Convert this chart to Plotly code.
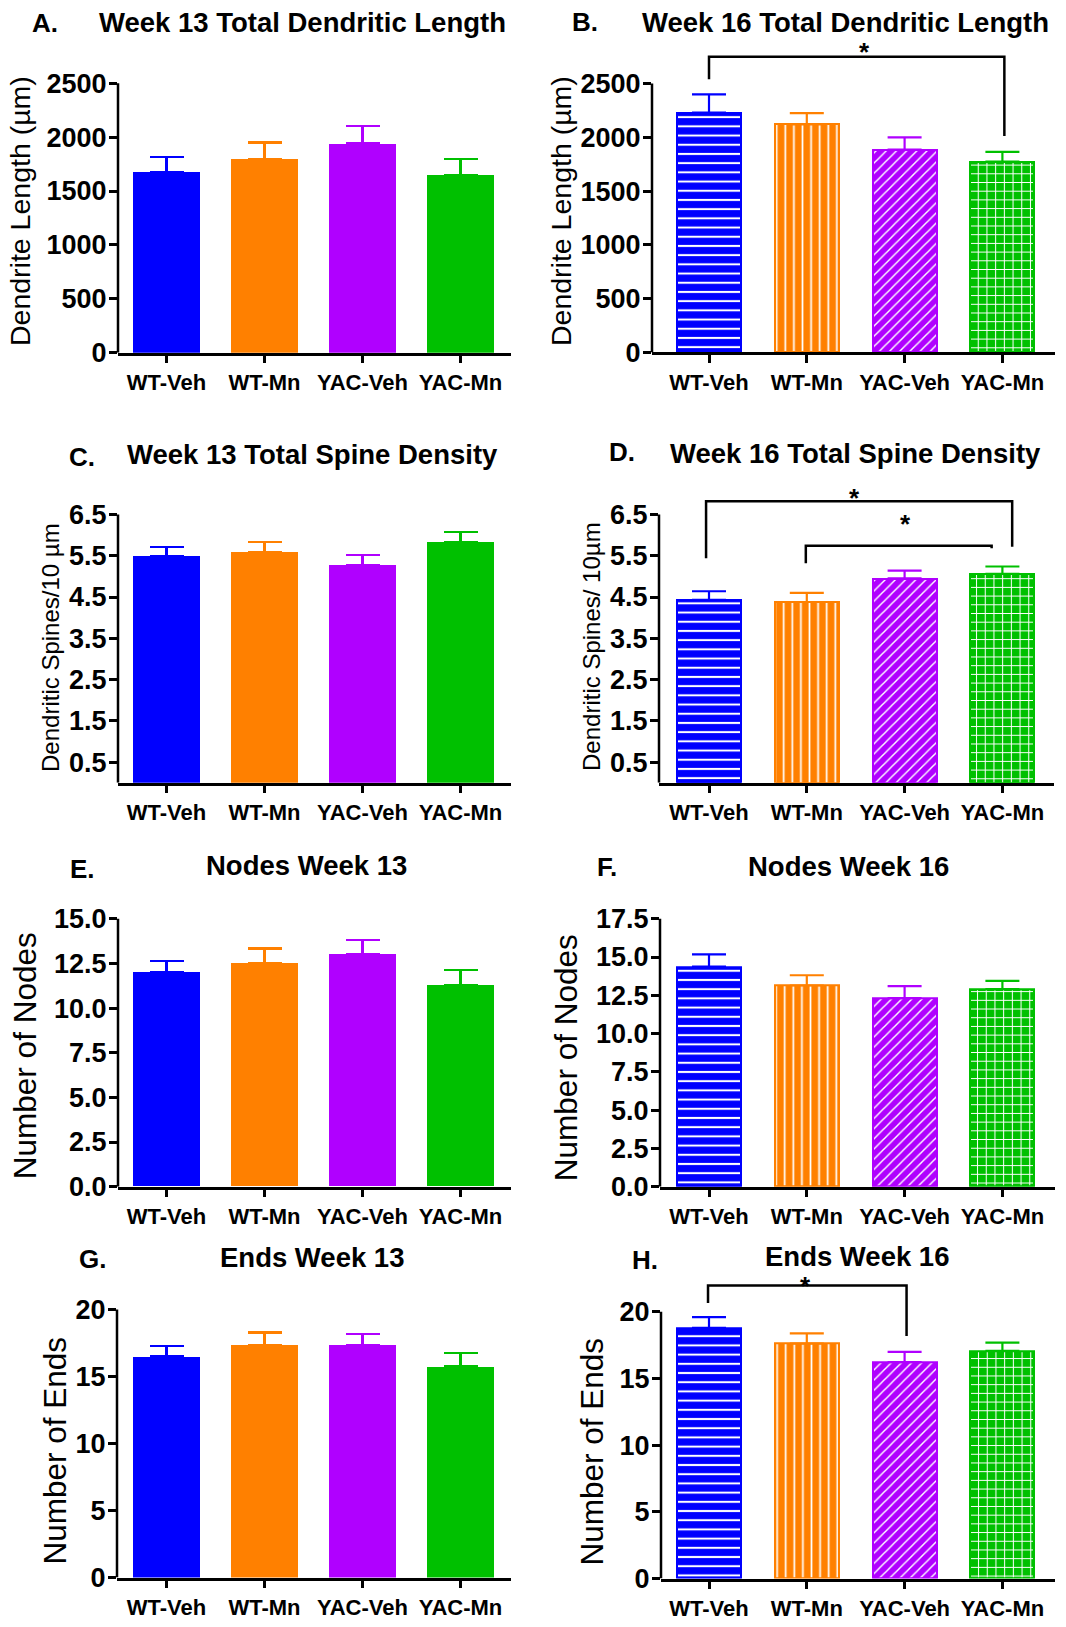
import plotly.graph_objects as go

# ---------------- data ----------------
groups = ["WT-Veh", "WT-Mn", "YAC-Veh", "YAC-Mn"]
colors = ["#0000FF", "#FF8000", "#B000FF", "#00C000"]
patterns = ["-", "|", "/", "+"]

# total dendritic length (µm), mean and SEM
len_w13_mean = [1680, 1800, 1940, 1650]
len_w13_sem = [135, 150, 160, 145]
len_w16_mean = [2230, 2120, 1885, 1775]
len_w16_sem = [170, 105, 115, 90]

# total spine density (spines / 10 µm)
spine_w13_mean = [5.50, 5.60, 5.28, 5.84]
spine_w13_sem = [0.21, 0.23, 0.23, 0.23]
spine_w16_mean = [4.43, 4.38, 4.95, 5.06]
spine_w16_sem = [0.21, 0.22, 0.19, 0.18]

# number of nodes
nodes_w13_mean = [12.0, 12.5, 13.0, 11.3]
nodes_w13_sem = [0.65, 0.83, 0.80, 0.85]
nodes_w16_mean = [14.37, 13.14, 12.32, 12.90]
nodes_w16_sem = [0.80, 0.67, 0.78, 0.54]

# number of ends
ends_w13_mean = [16.5, 17.35, 17.37, 15.75]
ends_w13_sem = [0.77, 0.93, 0.80, 0.98]
ends_w16_mean = [18.8, 17.62, 16.23, 17.07]
ends_w16_sem = [0.80, 0.76, 0.77, 0.62]

# y tick values
len_ticks = [0, 500, 1000, 1500, 2000, 2500]
spine_ticks = [0.5, 1.5, 2.5, 3.5, 4.5, 5.5, 6.5]
nodes_w13_ticks = [0, 2.5, 5.0, 7.5, 10.0, 12.5, 15.0]
nodes_w16_ticks = [0, 2.5, 5.0, 7.5, 10.0, 12.5, 15.0, 17.5]
ends_ticks = [0, 5, 10, 15, 20]

# significance brackets: (x_left, x_right, y_bar, y_left_end, y_right_end)
len_w16_brackets = [(0.0, 3.02, 2748, 2539, 2011)]
spine_w16_brackets = [(-0.03, 3.10, 6.82, 5.44, 5.72),
                      (0.99, 2.89, 5.74, 5.32, 5.68)]
ends_w16_brackets = [(-0.01, 2.02, 21.97, 20.66, 18.19)]
# star marks: (x, y)
len_w16_stars = [(1.59, 2861)]
spine_w16_stars = [(1.49, 7.06), (2.01, 6.44)]
ends_w16_stars = [(0.99, 22.45)]

# ---------------- layout geometry (pixels) ----------------
W, H = 1066, 1627
FONT = "Liberation Sans, Arial, Helvetica, sans-serif"


def px_x(p):
    return p / W


def px_y(p):
    return 1 - p / H


panels = [
    dict(letter="A.", title="Week 13 Total Dendritic Length",
         ylabel="Dendrite Length (µm)", mean=len_w13_mean, sem=len_w13_sem,
         ticks=len_ticks, fmt="d", patterned=False,
         xl=118, xr=511, yb=356, ytt=84, ttop=2500,
         letter_xy=(45, 23), title_xy=(302, 23), ylab_xy=(20, 213), ylab_size=28.5,
         brackets=[], stars=[]),
    dict(letter="B.", title="Week 16 Total Dendritic Length",
         ylabel="Dendrite Length (µm)", mean=len_w16_mean, sem=len_w16_sem,
         ticks=len_ticks, fmt="d", patterned=True,
         xl=652, xr=1055, yb=355.7, ytt=84.3, ttop=2500,
         letter_xy=(585, 22), title_xy=(845, 23), ylab_xy=(561, 213), ylab_size=28.5,
         brackets=len_w16_brackets, stars=len_w16_stars),
    dict(letter="C.", title="Week 13 Total Spine Density",
         ylabel="Dendritic Spines/10 µm", mean=spine_w13_mean, sem=spine_w13_sem,
         ticks=spine_ticks, fmt=".1f", patterned=False,
         xl=118, xr=511, yb=790, ytt=519.3, ttop=6.5,
         letter_xy=(82, 461), title_xy=(312, 459), ylab_xy=(51, 654), ylab_size=24,
         brackets=[], stars=[]),
    dict(letter="D.", title="Week 16 Total Spine Density",
         ylabel="Dendritic Spines/ 10µm", mean=spine_w16_mean, sem=spine_w16_sem,
         ticks=spine_ticks, fmt=".1f", patterned=True,
         xl=659, xr=1054, yb=790, ytt=519.3, ttop=6.5,
         letter_xy=(622, 456), title_xy=(855, 458), ylab_xy=(592, 653), ylab_size=24,
         brackets=spine_w16_brackets, stars=spine_w16_stars),
    dict(letter="E.", title="Nodes Week 13",
         ylabel="Number of Nodes", mean=nodes_w13_mean, sem=nodes_w13_sem,
         ticks=nodes_w13_ticks, fmt=".1f", patterned=False,
         xl=118, xr=511, yb=1197.7, ytt=927.3, ttop=15.0,
         letter_xy=(82, 877), title_xy=(306, 874), ylab_xy=(25, 1066), ylab_size=31.5,
         brackets=[], stars=[]),
    dict(letter="F.", title="Nodes Week 16",
         ylabel="Number of Nodes", mean=nodes_w16_mean, sem=nodes_w16_sem,
         ticks=nodes_w16_ticks, fmt=".1f", patterned=True,
         xl=660, xr=1055, yb=1197.7, ytt=927.3, ttop=17.5,
         letter_xy=(607, 875), title_xy=(848, 875), ylab_xy=(566, 1068), ylab_size=31.5,
         brackets=[], stars=[]),
    dict(letter="G.", title="Ends Week 13",
         ylabel="Number of Ends", mean=ends_w13_mean, sem=ends_w13_sem,
         ticks=ends_ticks, fmt="d", patterned=False,
         xl=117, xr=511, yb=1592.3, ytt=1321.7, ttop=20,
         letter_xy=(92, 1271), title_xy=(312, 1269), ylab_xy=(55, 1464), ylab_size=31.5,
         brackets=[], stars=[]),
    dict(letter="H.", title="Ends Week 16",
         ylabel="Number of Ends", mean=ends_w16_mean, sem=ends_w16_sem,
         ticks=ends_ticks, fmt="d", patterned=True,
         xl=661, xr=1055, yb=1593.3, ytt=1324, ttop=20,
         letter_xy=(645, 1272), title_xy=(857, 1268), ylab_xy=(592, 1465), ylab_size=31.5,
         brackets=ends_w16_brackets, stars=ends_w16_stars),
]

# hatch settings per pattern shape: (tile size px, solidity)
hatch = {"-": (9.2, 0.22), "|": (8.6, 0.2), "/": (7.2, 0.2), "+": (8.7, 0.22)}

fig = go.Figure()
layout = dict(
    width=W, height=H, margin=dict(l=0, r=0, t=0, b=0),
    paper_bgcolor="white", plot_bgcolor="white", showlegend=False,
    font=dict(family=FONT, color="black"),
    bargap=0,
)
shapes, annotations = [], []

AXW = 2.5
for i, p in enumerate(panels, start=1):
    suffix = "" if i == 1 else str(i)
    xa, ya = f"x{suffix}", f"y{suffix}"
    xkey, ykey = f"xaxis{suffix}", f"yaxis{suffix}"

    # category centres and spacing in pixels
    c0, sp = (166.5, 98.0) if not p["patterned"] else (709.0, 97.8)
    xrange = [(p["xl"] - c0) / sp, (p["xr"] - c0) / sp]

    scale = (p["yb"] - p["ytt"]) / p["ttop"]  # px per unit
    ytop_px = p["ytt"] - 45
    yrange = [0, (p["yb"] - ytop_px) / scale]

    xs = list(range(len(groups)))
    for k in xs:
        marker = dict(color=colors[k], line=dict(width=0))
        if p["patterned"]:
            hs, hsol = hatch[patterns[k]]
            marker = dict(
                color=colors[k],
                line=dict(color=colors[k], width=2),
                pattern=dict(shape=patterns[k], fgcolor="white", bgcolor=colors[k],
                             size=hs, solidity=hsol, fillmode="replace"),
            )
        fig.add_trace(go.Bar(
            x=[k], y=[p["mean"][k]], width=0.68 if not p["patterned"] else 0.655,
            marker=marker, xaxis=xa, yaxis=ya,
            error_y=dict(type="data", symmetric=False, array=[p["sem"][k]],
                         arrayminus=[0], color=colors[k], thickness=2.2, width=17),
            hoverinfo="skip",
        ))

    layout[xkey] = dict(
        domain=[px_x(p["xl"]), px_x(p["xr"])], range=xrange, anchor=ya,
        tickmode="array", tickvals=xs, ticktext=groups,
        showline=True, linecolor="black", linewidth=AXW,
        ticks="outside", ticklen=8, tickwidth=AXW, tickcolor="black",
        showgrid=False, zeroline=False, fixedrange=True,
        tickfont=dict(family=FONT, size=22, color="black", weight="bold"),
    )
    layout[ykey] = dict(
        domain=[px_y(p["yb"]), px_y(ytop_px)], range=yrange, anchor=xa,
        tickmode="array", tickvals=p["ticks"],
        ticktext=[(f"{v:.1f}" if p["fmt"] == ".1f" else f"{int(v)}") for v in p["ticks"]],
        showline=False, ticks="outside", ticklen=8, tickwidth=AXW, tickcolor="black",
        showgrid=False, zeroline=False, fixedrange=True, ticklabelstandoff=-3,
        tickfont=dict(family=FONT, size=27, color="black", weight="bold"),
    )

    # y-axis spine from 0 to the top tick
    shapes.append(dict(type="line", xref=f"{xa} domain", yref=ya,
                       x0=0, x1=0, y0=0, y1=p["ttop"],
                       line=dict(color="black", width=AXW), layer="above"))

    # significance brackets
    for (bx0, bx1, by, byl, byr) in p["brackets"]:
        shapes.append(dict(type="path", xref=xa, yref=ya,
                           path=f"M {bx0},{byl} L {bx0},{by} L {bx1},{by} L {bx1},{byr}",
                           line=dict(color="black", width=2.5), layer="above"))
    for (sx, sy) in p["stars"]:
        annotations.append(dict(x=sx, y=sy, xref=xa, yref=ya, text="<b>*</b>",
                                showarrow=False, yshift=-7,
                                font=dict(family=FONT, size=26, color="black")))

    # panel letter, title and y-axis label
    lx, ly = p["letter_xy"]
    annotations.append(dict(x=px_x(lx), y=px_y(ly), xref="paper", yref="paper",
                            text=f"<b>{p['letter']}</b>", showarrow=False,
                            xanchor="center", yanchor="middle",
                            font=dict(family=FONT, size=26, color="black")))
    tx, ty = p["title_xy"]
    annotations.append(dict(x=px_x(tx), y=px_y(ty), xref="paper", yref="paper",
                            text=f"<b>{p['title']}</b>", showarrow=False,
                            xanchor="center", yanchor="middle",
                            font=dict(family=FONT, size=27.5, color="black")))
    yx, yy = p["ylab_xy"]
    annotations.append(dict(x=px_x(yx), y=px_y(yy), xref="paper", yref="paper",
                            text=p["ylabel"], showarrow=False, textangle=-90,
                            xanchor="center", yanchor="middle",
                            font=dict(family=FONT, size=p["ylab_size"], color="black")))

layout["shapes"] = shapes
layout["annotations"] = annotations
fig.update_layout(**layout)
fig.write_html("out.html")
